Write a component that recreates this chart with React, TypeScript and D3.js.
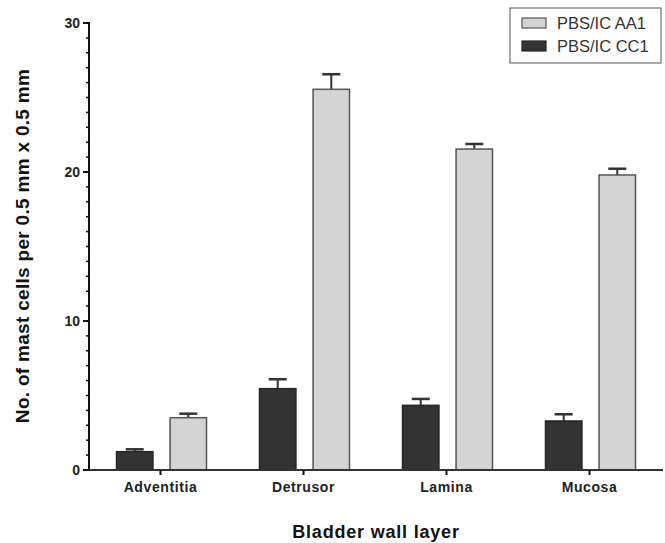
import * as d3 from "d3";

const layers = ["Adventitia", "Detrusor", "Lamina", "Mucosa"];
const groups = ["PBS/IC CC1", "PBS/IC AA1"];
const cc1Mean = [1.23, 5.46, 4.34, 3.29];
const cc1Err = [0.16, 0.63, 0.43, 0.45];
const aa1Mean = [3.51, 25.55, 21.54, 19.8];
const aa1Err = [0.27, 1.01, 0.34, 0.42];
const yTicks = [0, 10, 20, 30];

const fills: Record<string, string> = { "PBS/IC CC1": "#333333", "PBS/IC AA1": "#d4d4d4" };
const strokes: Record<string, string> = { "PBS/IC CC1": "#262626", "PBS/IC AA1": "#555555" };

export default function App() {
  const width = 665;
  const height = 543;
  const x0 = 89;
  const x1 = 661;
  const yBase = 470;

  const x = d3.scaleBand<string>().domain(layers).range([x0, x1]).padding(0);
  const inner = d3.scaleBand<string>().domain(groups).range([-44, 46]).paddingInner(0.32).paddingOuter(0);
  const y = d3.scaleLinear().domain([0, 30]).range([yBase, 23]);
  const minor = d3.range(0, 31, 1);

  const rows = layers.flatMap((l, i) => [
    { layer: l, group: groups[0], v: cc1Mean[i], e: cc1Err[i] },
    { layer: l, group: groups[1], v: aa1Mean[i], e: aa1Err[i] },
  ]);

  const font = "Arial, 'Liberation Sans', sans-serif";

  return (
    <svg width={width} height={height} style={{ position: "absolute", left: 0, top: 0, background: "#fff" }} fontFamily={font}>
      {/* bars */}
      {rows.map((d, i) => {
        const cx = x(d.layer)! + x.bandwidth() / 2;
        const bx = cx + inner(d.group)!;
        const bw = inner.bandwidth();
        const top = y(d.v);
        const etop = y(d.v + d.e);
        const mid = bx + bw / 2;
        return (
          <g key={i}>
            <line x1={mid} x2={mid} y1={top} y2={etop} stroke="#333" strokeWidth={2} />
            <line x1={mid - 9} x2={mid + 9} y1={etop} y2={etop} stroke="#333" strokeWidth={2.5} />
            <rect x={bx} y={top} width={bw} height={yBase - top} fill={fills[d.group]} stroke={strokes[d.group]} strokeWidth={1.5} />
          </g>
        );
      })}

      {/* y axis */}
      <line x1={x0} x2={x0} y1={y(30) - 1} y2={yBase + 1} stroke="#111" strokeWidth={2} />
      {minor.map((t) => (
        <line key={t} x1={x0 - (t % 10 === 0 ? 6 : 3)} x2={x0} y1={y(t)} y2={y(t)} stroke="#111" strokeWidth={t % 10 === 0 ? 2 : 1.5} />
      ))}
      {yTicks.map((t) => (
        <text key={t} x={x0 - 9} y={y(t)} dy="0.35em" textAnchor="end" fontSize={14} fontWeight="bold" fill="#222">
          {t}
        </text>
      ))}

      {/* x axis */}
      <line x1={x0} x2={x1 + 2} y1={yBase} y2={yBase} stroke="#333" strokeWidth={2} />
      {layers.map((l) => {
        const cx = x(l)! + x.bandwidth() / 2;
        return (
          <g key={l}>
            <line x1={cx} x2={cx} y1={yBase} y2={yBase + 5} stroke="#111" strokeWidth={2} />
            <text x={cx} y={yBase + 22} textAnchor="middle" fontSize={14} fontWeight="bold" fill="#222" letterSpacing={0.6}>
              {l}
            </text>
          </g>
        );
      })}

      {/* axis titles */}
      <text x={376} y={538} textAnchor="middle" fontSize={18} fontWeight="bold" fill="#111" letterSpacing={0.8}>
        Bladder wall layer
      </text>
      <text transform="translate(29,246) rotate(-90)" textAnchor="middle" fontSize={19} fontWeight="bold" fill="#111" letterSpacing={0.3}>
        No. of mast cells per 0.5 mm x 0.5 mm
      </text>

      {/* legend */}
      <rect x={510} y={8} width={151} height={55} fill="#fff" stroke="#555" strokeWidth={1} />
      {[groups[1], groups[0]].map((g, i) => (
        <g key={g} transform={`translate(522, ${18 + i * 23})`}>
          <rect x={0} y={0} width={24} height={10} fill={fills[g]} stroke={strokes[g]} strokeWidth={1.2} />
          <text x={35} y={11} fontSize={16.5} fill="#333">
            {g}
          </text>
        </g>
      ))}
    </svg>
  );
}
